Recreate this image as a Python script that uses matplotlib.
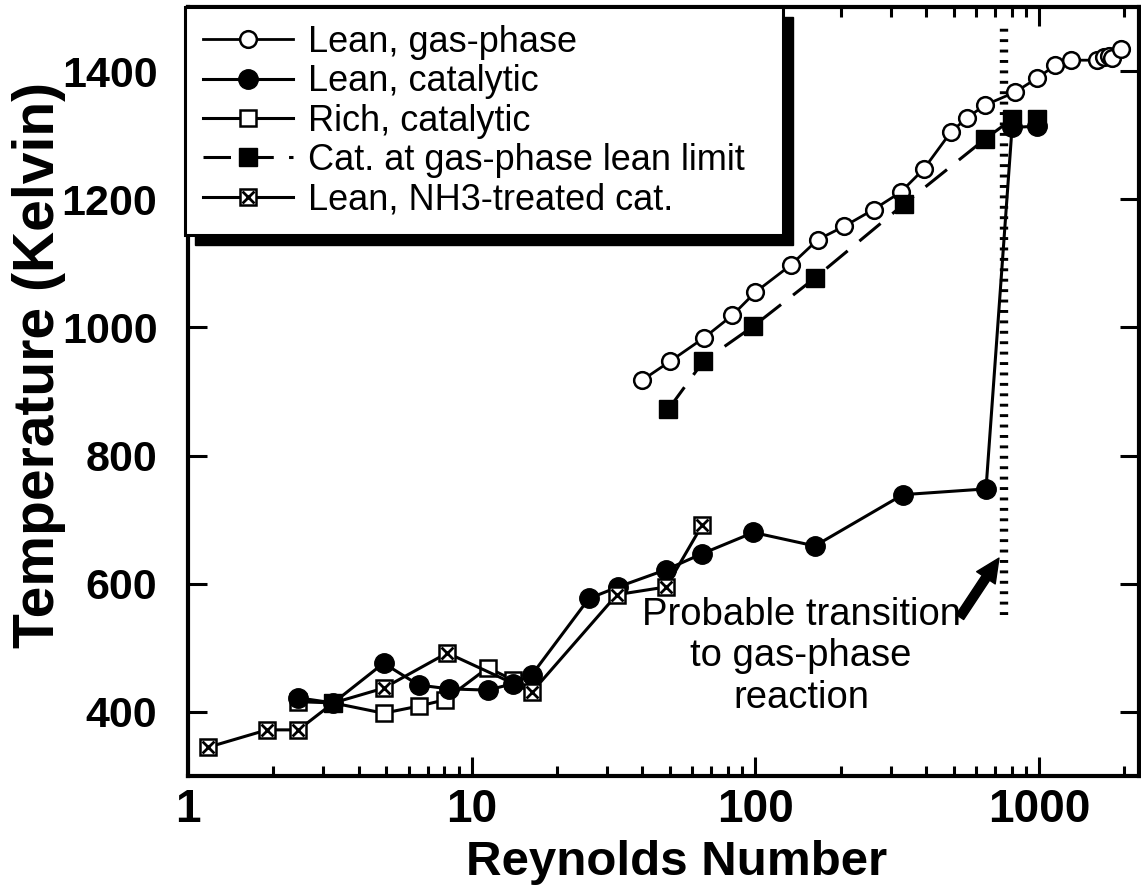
import matplotlib.pyplot as plt
from matplotlib.legend_handler import HandlerTuple
from matplotlib.patches import Rectangle
from matplotlib.ticker import LogLocator, FixedLocator, FuncFormatter, NullFormatter

plt.rcParams["font.family"] = ["Liberation Sans", "DejaVu Sans"]

# Lean, gas-phase
gas_re = [40, 50, 66, 83, 100, 133, 166, 206, 261, 325, 392, 489, 557,
          645, 822, 984, 1140, 1297, 1603, 1698, 1767, 1811, 1950]
gas_t = [918, 947, 984, 1019, 1055, 1097, 1137, 1158, 1184, 1211, 1247, 1305, 1327,
         1347, 1367, 1389, 1409, 1417, 1417, 1422, 1423, 1420, 1434]

# Lean, catalytic
cat_re = [2.45, 3.25, 4.89, 6.5, 8.3, 11.4, 13.96, 16.3, 25.9, 32.8, 48.5,
          65, 98.4, 162, 331, 650, 803, 984]
cat_t = [422, 414, 476, 442, 436, 434, 444, 458, 577, 595, 622,
         647, 680, 659, 739, 748, 1312, 1314]

# Rich, catalytic
rich_re = [2.45, 3.25, 4.89, 6.5, 8.07, 11.4, 13.96]
rich_t = [416, 414, 398, 409, 419, 469, 450]

# Cat. at gas-phase lean limit
lim_re = [49.3, 65.5, 98.4, 162, 333, 645, 803, 984]
lim_t = [872, 947, 1002, 1077, 1192, 1294, 1325, 1325]
lim_low_re = [3.25]
lim_low_t = [414]

# Lean, NH3-treated cat.
nh3_re = [1.18, 1.9, 2.45, 3.25, 4.89, 8.2, 16.3, 32.5, 48.5, 65]
nh3_t = [345, 372, 372, 414, 437, 492, 431, 583, 595, 692]

labels = ["Lean, gas-phase", "Lean, catalytic", "Rich, catalytic",
          "Cat. at gas-phase lean limit", "Lean, NH3-treated cat."]

fig = plt.figure(figsize=(11.41, 8.86), dpi=100)
ax = fig.add_axes([188 / 1141, 1 - 776 / 886, 951 / 1141, 769 / 886])

lw = 2.2
h_gas, = ax.plot(gas_re, gas_t, color="k", lw=2.0, marker="o", ms=12,
                 mfc="white", mec="k", mew=1.8, zorder=3)
h_rich, = ax.plot(rich_re, rich_t, color="k", lw=lw, marker="s", ms=12,
                  mfc="white", mec="k", mew=1.8, zorder=3)
h_cat, = ax.plot(cat_re, cat_t, color="k", lw=lw, marker="o", ms=14,
                 mfc="k", mec="k", zorder=4)
h_lim, = ax.plot(lim_re, lim_t, color="k", lw=lw, dashes=(9, 5), marker="s",
                 ms=13, mfc="k", mec="k", zorder=4)
ax.plot(lim_low_re, lim_low_t, ls="none", marker="s", ms=13, color="k", zorder=6)
h_nh3, = ax.plot(nh3_re, nh3_t, color="k", lw=lw, marker="s", ms=12,
                 mfc="white", mec="k", mew=1.8, zorder=5)
h_nh3x, = ax.plot(nh3_re, nh3_t, ls="none", marker="x", ms=8, mew=2.0,
                  color="k", zorder=5)

# transition marker
ax.plot([752, 752], [552, 1472], color="k", lw=6, ls=(0, (0.35, 0.9)), zorder=2)
ax.annotate("", xy=(722, 640), xytext=(526, 548),
            arrowprops=dict(arrowstyle="simple,head_width=0.8,head_length=0.85,tail_width=0.32",
                            fc="k", ec="k", mutation_scale=20, shrinkA=0, shrinkB=0))
ax.text(145, 487, "Probable transition\nto gas-phase\nreaction", fontsize=27.5,
        ha="center", va="center", linespacing=1.2)

ax.set_xscale("log")
ax.set_xlim(1, 2250)
ax.set_ylim(300, 1500)
ax.xaxis.set_major_locator(FixedLocator([1, 10, 100, 1000]))
ax.xaxis.set_major_formatter(FuncFormatter(lambda v, p: "%d" % round(v)))
ax.xaxis.set_minor_locator(LogLocator(base=10, subs=range(2, 10), numticks=20))
ax.xaxis.set_minor_formatter(NullFormatter())
ax.yaxis.set_major_locator(FixedLocator([400, 600, 800, 1000, 1200, 1400]))

ax.tick_params(which="both", direction="in", top=True, right=True, width=2.2)
ax.tick_params(which="major", length=14)
ax.tick_params(which="minor", length=7)
ax.tick_params(axis="x", pad=9, labelsize=33)
ax.tick_params(axis="y", pad=22, labelsize=31)
for lab in ax.get_xticklabels() + ax.get_yticklabels():
    lab.set_fontweight("bold")
for sp in ax.spines.values():
    sp.set_linewidth(3)

ax.set_xlabel("Reynolds Number", fontsize=35.5, fontweight="bold")
ax.set_ylabel("Temperature (Kelvin)", fontsize=41, fontweight="bold")
ax.xaxis.set_label_coords(0.514, -0.083)
ax.yaxis.set_label_coords(-0.128, 0.535)

leg = ax.legend([h_gas, h_cat, h_rich, h_lim, (h_nh3, h_nh3x)], labels,
                handler_map={tuple: HandlerTuple()}, loc="upper left",
                bbox_to_anchor=(-0.003, 0.0, 0.629, 1.0), mode="expand",
                borderaxespad=0, fontsize=26,
                handlelength=2.5, handletextpad=0.4, labelspacing=0.12,
                borderpad=0.5, fancybox=False, framealpha=1, edgecolor="k")
leg.get_frame().set_linewidth(2.2)
leg.set_zorder(10)

# drop shadow of the legend box
fig.canvas.draw()
bb = leg.get_frame().get_window_extent().transformed(ax.transAxes.inverted())
dx = 10 / 951
dy = 10 / 769
ax.add_patch(Rectangle((bb.x0 + dx, bb.y0 - dy), bb.width, bb.height,
                       transform=ax.transAxes, facecolor="k", edgecolor="k",
                       clip_on=False, zorder=9))

fig.savefig("out.png", dpi=100, facecolor="white")
